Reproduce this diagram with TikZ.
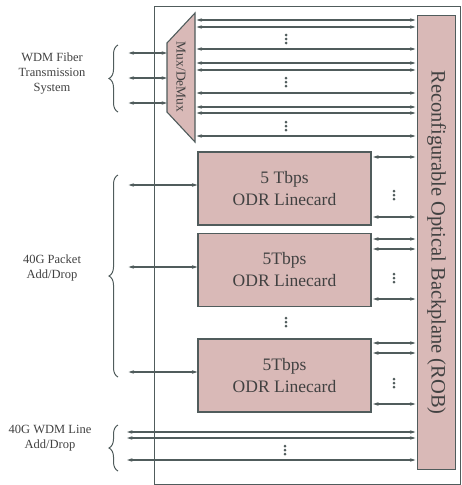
\documentclass[tikz,border=0pt]{standalone}
\usepackage{fontspec}
\setmainfont{Liberation Serif}
\usetikzlibrary{arrows.meta,decorations.pathreplacing}
\definecolor{pinkfill}{RGB}{217,185,183}
\definecolor{edge}{RGB}{80,92,92}
\definecolor{txt}{RGB}{65,65,65}
\tikzset{
  arr/.style={draw=edge, line width=1.1pt, {Stealth[length=5.5pt,width=3.6pt]}-{Stealth[length=5.5pt,width=3.6pt]}, shorten <=1.5pt, shorten >=1.5pt},
  card/.style={draw=edge, line width=1.1pt, fill=pinkfill, minimum width=173pt, minimum height=73pt, inner sep=0pt, align=center, font=\fontsize{17.5}{22}\selectfont, text=txt},
  lbl/.style={align=center, font=\fontsize{12.5}{15}\selectfont, text=txt},
  brc/.style={draw=edge, line width=1pt, decoration={brace, amplitude=9pt}, decorate},
  dot/.style={fill=edge, draw=none, circle, inner sep=0pt, minimum size=3pt}
}
\newcommand{\vdts}[2]{\node[dot] at (#1,#2-4) {};\node[dot] at (#1,#2) {};\node[dot] at (#1,#2+4) {};}
\begin{document}
\begin{tikzpicture}[x=1pt,y=-1pt]
\useasboundingbox (0,0) rectangle (462,485);
% outer frame
\node[draw=edge, line width=1.1pt, minimum width=306pt, minimum height=478pt, inner sep=0pt, anchor=north west] (frame) at (154,6) {};
% ROB
\node[draw=edge, line width=1.1pt, fill=pinkfill, minimum width=38pt, minimum height=454pt, inner sep=0pt, anchor=north west] (rob) at (417,15) {};
\node[rotate=-90, font=\fontsize{20.5}{24}\selectfont, text=txt] (robtxt) at (rob.center) {Reconfigurable Optical Backplane (ROB)};
% Mux/DeMux trapezoid
\coordinate (m1) at (167,43);
\coordinate (m2) at (195,13);
\coordinate (m3) at (195,142);
\coordinate (m4) at (167,112);
\draw[draw=edge, line width=1.1pt, fill=pinkfill] (m1) -- (m2) -- (m3) -- (m4) -- cycle;
\node[rotate=-90, font=\fontsize{13.5}{15}\selectfont, text=txt] (muxtxt) at (181,77) {Mux/DeMux};
% mux to ROB arrows
\foreach \y in {20,27,49,63,70,93,107,113,136}{
  \draw[arr] (m2 |- 0,\y) -- (rob.west |- 0,\y);
}
\vdts{286}{39}
\vdts{286}{82}
\vdts{286}{126}
% WDM fiber side
\coordinate (wl) at (127,0);
\foreach \y in {53,78,103}{
  \draw[arr, shorten >=0pt] (wl |- 0,\y) -- (m1 |- 0,\y);
}
\draw[brc] (118,112) -- (118,45);
\node[lbl] (wdm) at (52,74) {WDM Fiber\\Transmission\\System};
% linecards
\node[card] (c1) at (284.5,188.5) {5 Tbps\\ODR Linecard};
\node[card] (c2) at (284.5,270) {5Tbps\\ODR Linecard};
\node[card] (c3) at (284.5,375.5) {5Tbps\\ODR Linecard};
\vdts{286}{322}
% left arrows to linecards
\foreach \c/\y in {c1/185,c2/267,c3/372}{
  \draw[arr, shorten >=0pt] (wl |- 0,\y) -- (\c.west |- 0,\y);
}
\draw[brc] (118,377) -- (118,175);
\node[lbl] (pkt) at (52,268) {40G Packet\\Add/Drop};
% linecard to ROB arrows
\foreach \c/\y in {c1/157,c1/217,c2/239,c2/249,c2/299,c3/343,c3/353,c3/404}{
  \draw[arr] (\c.east |- 0,\y) -- (rob.west |- 0,\y);
}
\vdts{394}{195}
\vdts{394}{278}
\vdts{394}{383}
% WDM line add/drop
\foreach \y in {432,438,460}{
  \draw[arr, shorten <=0pt] (wl |- 0,\y) -- (rob.west |- 0,\y);
}
\vdts{285}{450}
\draw[brc] (118,471) -- (118,425);
\node[lbl] (line) at (50,438) {40G WDM Line\\Add/Drop};
\end{tikzpicture}
\end{document}
